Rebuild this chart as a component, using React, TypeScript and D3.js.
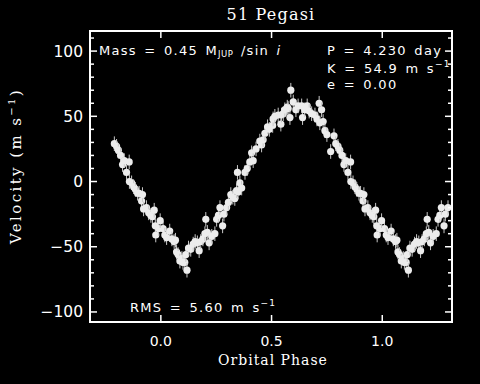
import * as d3 from "d3";

// radial velocity, one orbit (phase 0..1), drawn again at phase ±1
const phase = [
  0.010, 0.018, 0.026, 0.040, 0.050, 0.060, 0.066, 0.071, 0.078, 0.086,
  0.095, 0.100, 0.108, 0.113, 0.118, 0.125, 0.135, 0.146, 0.155, 0.165,
  0.173, 0.180, 0.190, 0.199, 0.203, 0.210, 0.218, 0.230, 0.244, 0.252,
  0.260, 0.267, 0.279, 0.285, 0.297, 0.305, 0.316, 0.325, 0.334, 0.342,
  0.349, 0.357, 0.365, 0.346, 0.380, 0.390, 0.402, 0.410, 0.417, 0.430,
  0.447, 0.455, 0.462, 0.470, 0.482, 0.490, 0.505, 0.507, 0.515, 0.530,
  0.542, 0.545, 0.553, 0.560, 0.571, 0.575, 0.583, 0.587, 0.598, 0.610,
  0.620, 0.636, 0.640, 0.650, 0.661, 0.670, 0.681, 0.696, 0.705, 0.715,
  0.718, 0.726, 0.733, 0.741, 0.750, 0.767, 0.782, 0.790, 0.800, 0.808,
  0.818, 0.827, 0.835, 0.845, 0.857, 0.858, 0.868, 0.877, 0.885, 0.895,
  0.902, 0.913, 0.917, 0.922, 0.935, 0.945, 0.955, 0.962, 0.970, 0.975,
  0.977, 0.990, 0.997,
];
const velocity = [
  -36, -41, -43, -38, -44, -46, -45, -54, -56, -61,
  -59, -62, -62, -56, -68, -51, -52, -48, -46, -47,
  -53, -46, -44, -40, -29, -39, -47, -42, -40, -29,
  -26, -20, -34, -25, -20, -16, -10, -12, -13, -7,
  -8, -1, -5, 7, 7, 10, 15, 22, 16, 25,
  31, 28, 32, 37, 42, 40, 43, 48, 50, 51,
  44, 51, 52, 55, 57, 56, 49, 70, 61, 55,
  58, 58, 49, 55, 58, 54, 52, 51, 48, 60,
  45, 55, 46, 39, 36, 23, 35, 29, 27, 24,
  20, 13, 16, 7, 15, 0, -1, -4, -6, -9,
  -9, -15, -10, -21, -20, -24, -26, -27, -22, -34,
  -41, -36, -30,
];
const ERR = 5.6;

const xTicks = [0, 0.5, 1.0];
const yTicks = [-100, -50, 0, 50, 100];
const yMinor = d3.range(-100, 111, 10);

const W = 480;
const H = 384;
const m = { left: 90, right: 452, top: 31, bottom: 322 };

export default function App() {
  const x = d3.scaleLinear().domain([-0.32, 1.315]).range([m.left, m.right]);
  const y = d3.scaleLinear().domain([-107.7, 115.4]).range([m.bottom, m.top]);

  const pts: { p: number; v: number }[] = [];
  phase.forEach((p, i) => {
    [-1, 0, 1].forEach((k) => {
      const pp = p + k;
      if (pp >= -0.21 && pp <= 1.3) pts.push({ p: pp, v: velocity[i] });
    });
  });

  const white = "#ffffff";
  const tickFont = "'DejaVu Sans', sans-serif";
  const serif = "'DejaVu Serif', serif";

  return (
    <svg
      width={W}
      height={H}
      style={{ position: "absolute", left: 0, top: 0, background: "#000" }}
    >
      <rect width={W} height={H} fill="#000" />

      <text x={271} y={20} fill={white} fontFamily={serif} fontSize={16} textAnchor="middle" letterSpacing={1.2}>
        51 Pegasi
      </text>

      {/* points */}
      {pts.map((d, i) => (
        <g key={i}>
          <line
            x1={x(d.p)}
            x2={x(d.p)}
            y1={y(d.v - ERR)}
            y2={y(d.v + ERR)}
            stroke="#c8c8c8"
            strokeWidth={1}
          />
          <circle cx={x(d.p)} cy={y(d.v)} r={3.6} fill="#ececec" />
        </g>
      ))}

      {/* frame */}
      <rect
        x={m.left}
        y={m.top}
        width={m.right - m.left}
        height={m.bottom - m.top}
        fill="none"
        stroke={white}
        strokeWidth={2}
      />

      {yMinor.map((t) => {
        const major = t % 50 === 0;
        const len = major ? 7 : 4;
        return (
          <g key={"y" + t}>
            <line x1={m.left} x2={m.left + len} y1={y(t)} y2={y(t)} stroke={white} strokeWidth={1.5} />
            <line x1={m.right - len} x2={m.right} y1={y(t)} y2={y(t)} stroke={white} strokeWidth={1.5} />
          </g>
        );
      })}
      {xTicks.map((t) => (
        <g key={"x" + t}>
          <line x1={x(t)} x2={x(t)} y1={m.bottom} y2={m.bottom - 7} stroke={white} strokeWidth={1.5} />
          <line x1={x(t)} x2={x(t)} y1={m.top} y2={m.top + 7} stroke={white} strokeWidth={1.5} />
          <text x={x(t)} y={346} fill={white} fontFamily={tickFont} fontSize={14} textAnchor="middle">
            {d3.format(".1f")(t)}
          </text>
        </g>
      ))}
      {yTicks.map((t) => (
        <text key={"yl" + t} x={83} y={y(t) + 5.5} fill={white} fontFamily={tickFont} fontSize={15.5} textAnchor="end">
          {t < 0 ? "\u2212" + Math.abs(t) : t}
        </text>
      ))}

      <text x={273} y={365} fill={white} fontFamily={serif} fontSize={14} textAnchor="middle" letterSpacing={1}>
        Orbital Phase
      </text>
      <text
        transform={`translate(21, 166) rotate(-90)`}
        fill={white}
        fontFamily={serif}
        fontSize={15}
        textAnchor="middle"
        letterSpacing={2.4}
      >
        Velocity  (m s<tspan fontSize={10} dy={-6}>−1</tspan><tspan dy={6}>)</tspan>
      </text>

      {/* annotations */}
      <g fill={white} fontFamily={tickFont} fontSize={13} letterSpacing={1.3} wordSpacing={2}>
        <text x={99} y={55}>
          Mass = 0.45 M<tspan fontSize={8.5} dy={2} letterSpacing={0.5}>JUP</tspan>
          <tspan dy={-2}> /sin </tspan>
          <tspan fontStyle="italic">i</tspan>
        </text>
        <text x={327} y={55}>P = 4.230 day</text>
        <text x={327} y={73}>
          K = 54.9 m s<tspan fontSize={9} dy={-6}>−1</tspan>
        </text>
        <text x={327} y={89}>e = 0.00</text>
        <text x={130} y={312}>
          RMS = 5.60 m s<tspan fontSize={9} dy={-6}>−1</tspan>
        </text>
      </g>
    </svg>
  );
}
